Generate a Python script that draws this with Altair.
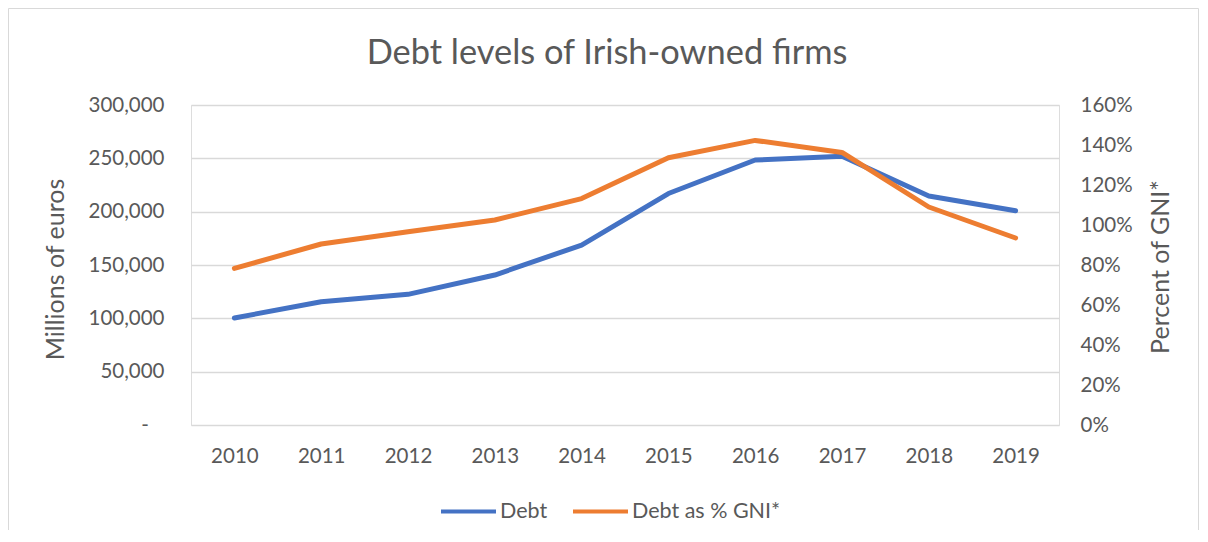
import altair as alt
import pandas as pd

years = ["2010", "2011", "2012", "2013", "2014", "2015", "2016", "2017", "2018", "2019"]
debt = [100300, 115600, 122500, 140600, 168700, 217000, 248400, 252000, 214700, 200800]
pct_gni = [78.3, 90.5, 96.6, 102.5, 113.2, 133.6, 142.3, 136.3, 109.0, 93.5]
series_names = ["Debt", "Debt as % GNI*"]
series_colors = ["#4472C4", "#ED7D31"]
left_ticks = [0, 50000, 100000, 150000, 200000, 250000, 300000]
right_ticks = [0, 0.2, 0.4, 0.6, 0.8, 1.0, 1.2, 1.4, 1.6]

rows = []
for y, d in zip(years, debt):
    rows.append({"year": y, "series": series_names[0], "value": d})
for y, p in zip(years, pct_gni):
    rows.append({"year": y, "series": series_names[1], "value": p / 100})
df = pd.DataFrame(rows)

FONT = "Lato"
GREY = "#595959"
W, H = 868, 320

color = alt.Color(
    "series:N",
    scale=alt.Scale(domain=series_names, range=series_colors),
    legend=alt.Legend(
        orient="none", legendX=248, legendY=377, direction="horizontal",
        title=None, symbolType="stroke", symbolStrokeWidth=4, symbolSize=3025,
        labelFont=FONT, labelFontSize=21.5, labelColor=GREY,
        columnPadding=17, labelOffset=2,
    ),
)

xenc = alt.X(
    "year:O", sort=years, scale=alt.Scale(type="point", padding=0.5),
    axis=alt.Axis(title=None, domain=False, ticks=False, tickSize=0, grid=False,
                  labelPadding=21.5, labelAngle=0, labelFont=FONT,
                  labelFontSize=20.5, labelColor=GREY),
)

border = alt.Chart(alt.Data(values=[{"b": 1}])).mark_rect(
    filled=False, stroke="#d9d9d9", strokeWidth=1, clip=False
).encode(
    x=alt.value(-182.5), x2=alt.value(1007.5),
    y=alt.value(-96.5), y2=alt.value(440),
)

base = alt.Chart(df)

line_debt = base.transform_filter(
    alt.datum.series == series_names[0]
).mark_line(strokeWidth=5, strokeCap="round", strokeJoin="round").encode(
    x=xenc,
    y=alt.Y("value:Q", scale=alt.Scale(domain=[0, 300000], nice=False),
            axis=alt.Axis(orient="left", values=left_ticks, title="Millions of euros",
                          labelExpr="datum.value == 0 ? '-\u00a0\u00a0\u00a0\u200b' : format(datum.value, ',')",
                          domain=False, ticks=False, tickSize=0, grid=True,
                          gridColor="#d9d9d9", gridWidth=1.3,
                          labelPadding=27, labelFont=FONT, labelFontSize=20.5,
                          labelColor=GREY, titleFont=FONT, titleFontSize=25,
                          titleFontWeight="normal", titleColor=GREY,
                          titleAngle=270, titleBaseline="alphabetic", titleAlign="center",
                          titleX=-127.5, titleY=164)),
    color=color,
)

line_pct = base.transform_filter(
    alt.datum.series == series_names[1]
).mark_line(strokeWidth=5, strokeCap="round", strokeJoin="round").encode(
    x=xenc,
    y=alt.Y("value:Q", scale=alt.Scale(domain=[0, 1.6], nice=False),
            axis=alt.Axis(orient="right", values=right_ticks, format=".0%",
                          title="Percent of GNI*", domain=False, ticks=False,
                          tickSize=0, grid=False, labelPadding=21,
                          labelFont=FONT, labelFontSize=20.5, labelColor=GREY,
                          titleFont=FONT, titleFontSize=25, titleFontWeight="normal",
                          titleColor=GREY, titleAngle=270, titleBaseline="alphabetic",
                          titleAlign="center", titleX=109.5, titleY=161.5)),
    color=color,
)

chart = alt.layer(border, line_debt, line_pct).resolve_scale(
    y="independent"
).properties(
    width=W, height=H,
    title=alt.TitleParams("Debt levels of Irish-owned firms", font=FONT, fontSize=34.4,
                          fontWeight="normal", color=GREY, anchor="middle",
                          baseline="alphabetic", offset=-90, dx=-18),
    autosize=alt.AutoSizeParams(type="none"),
    padding={"left": 183, "top": 97, "right": 140, "bottom": 105},
).configure_view(strokeWidth=0).configure(background="white")

chart.save("out.html", embed_options={"renderer": "svg", "actions": False})
